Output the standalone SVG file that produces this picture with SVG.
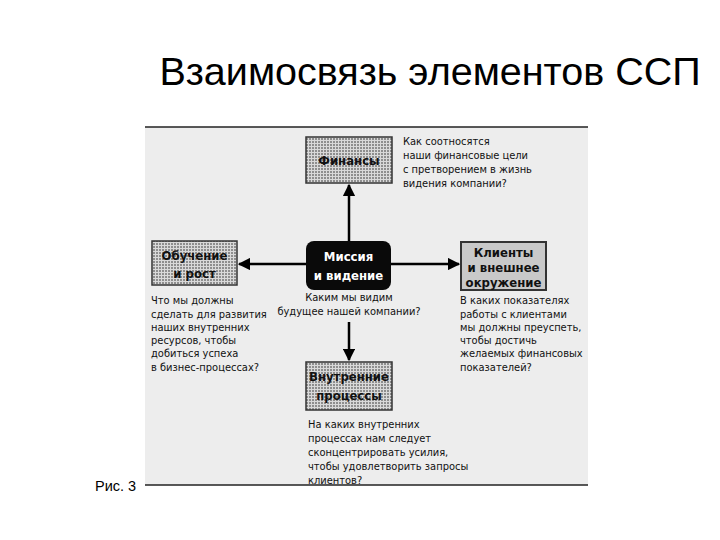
<svg xmlns="http://www.w3.org/2000/svg" width="720" height="540" viewBox="0 0 720 540">
<defs>
<pattern id="dots" width="3" height="3" patternUnits="userSpaceOnUse">
<rect width="3" height="3" fill="#d9d9d9"/>
<rect width="2" height="2" fill="#8e8e8e"/>
</pattern>
<marker id="ah" viewBox="0 0 10 10" refX="9" refY="5" markerWidth="5" markerHeight="5" orient="auto" markerUnits="strokeWidth">
<path d="M0,0 L10,5 L0,10 Z" fill="#000"/>
</marker>
</defs>
<style>
.box{fill:url(#dots);stroke:#333;stroke-width:1.5}
.lbl{font-family:"DejaVu Sans Condensed","DejaVu Sans",sans-serif;font-stretch:condensed;font-weight:bold;font-size:13px;fill:#111;text-anchor:middle}
.q{font-family:"DejaVu Sans Condensed","DejaVu Sans",sans-serif;font-stretch:condensed;font-size:11px;fill:#111}
.con{stroke:#000;stroke-width:2.5;fill:none;marker-end:url(#ah)}
</style>
<rect width="720" height="540" fill="#fff"/>
<text x="430" y="85" font-family="Liberation Sans, Arial, sans-serif" font-size="39.5" fill="#000" text-anchor="middle">Взаимосвязь элементов ССП</text>
<text x="95" y="491" font-family="Liberation Sans, Arial, sans-serif" font-size="14.5" fill="#000">Рис. 3</text>
<rect x="145" y="127" width="443" height="358" fill="#ededed"/>
<line x1="145" y1="127" x2="588" y2="127" stroke="#222" stroke-width="1.5"/>
<line x1="145" y1="485" x2="588" y2="485" stroke="#222" stroke-width="1.5"/>
<g id="connectors">
<line class="con" x1="349" y1="241" x2="349" y2="185"/>
<line class="con" x1="306" y1="264" x2="239" y2="264"/>
<line class="con" x1="391" y1="264" x2="459" y2="264"/>
<line class="con" x1="349" y1="322" x2="349" y2="360"/>
</g>
<g id="finance">
<rect class="box" x="306" y="137" width="86" height="46"/>
<text class="lbl" x="349" y="165">Финансы</text>
<text class="q" x="403" y="145">Как соотносятся</text>
<text class="q" x="403" y="159">наши финансовые цели</text>
<text class="q" x="403" y="173">с претворением в жизнь</text>
<text class="q" x="403" y="187">видения компании?</text>
</g>
<g id="mission">
<rect x="306" y="241" width="85" height="49" rx="8" fill="#0a0a0a"/>
<text class="lbl" x="348.5" y="261" style="fill:#fff">Миссия</text>
<text class="lbl" x="348.5" y="280" style="fill:#fff">и видение</text>
<text class="q" x="349" y="301" text-anchor="middle">Каким мы видим</text>
<text class="q" x="349" y="315" text-anchor="middle">будущее нашей компании?</text>
</g>
<g id="learning">
<rect class="box" x="152" y="241" width="85" height="44"/>
<text class="lbl" x="194.5" y="260">Обучение</text>
<text class="lbl" x="194.5" y="278">и рост</text>
<text class="q" x="151" y="304">Что мы должны</text>
<text class="q" x="151" y="318">сделать для развития</text>
<text class="q" x="151" y="331">наших внутренних</text>
<text class="q" x="151" y="344">ресурсов, чтобы</text>
<text class="q" x="151" y="357">добиться успеха</text>
<text class="q" x="151" y="371">в бизнес-процессах?</text>
</g>
<g id="clients">
<rect class="box" x="461" y="242" width="85" height="48" style="fill:#c9c9c9;stroke-width:2"/>
<text class="lbl" x="503.5" y="257">Клиенты</text>
<text class="lbl" x="503.5" y="272">и внешнее</text>
<text class="lbl" x="503.5" y="287">окружение</text>
<text class="q" x="460" y="304">В каких показателях</text>
<text class="q" x="460" y="318">работы с клиентами</text>
<text class="q" x="460" y="331">мы должны преуспеть,</text>
<text class="q" x="460" y="344">чтобы достичь</text>
<text class="q" x="460" y="357">желаемых финансовых</text>
<text class="q" x="460" y="371">показателей?</text>
</g>
<g id="internal">
<rect class="box" x="306" y="362" width="86" height="48"/>
<text class="lbl" x="349" y="381">Внутренние</text>
<text class="lbl" x="349" y="400">процессы</text>
<text class="q" x="308" y="428">На каких внутренних</text>
<text class="q" x="308" y="442">процессах нам следует</text>
<text class="q" x="308" y="456">сконцентрировать усилия,</text>
<text class="q" x="308" y="470">чтобы удовлетворить запросы</text>
<text class="q" x="308" y="484">клиентов?</text>
</g>
</svg>
